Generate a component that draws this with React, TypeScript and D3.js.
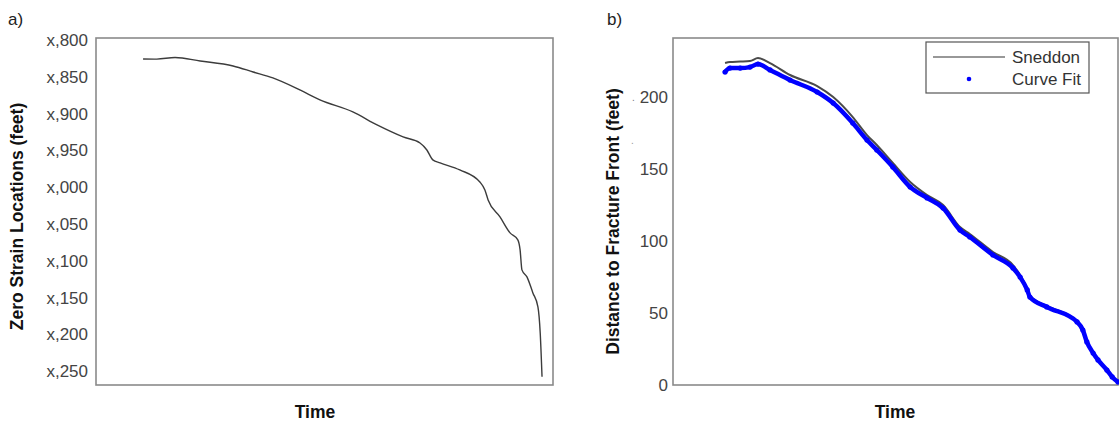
import React from "react";
import * as d3 from "d3";

// Panel a: zero strain location vs time (time in arbitrary units 0..100)
const timeA = [10.3, 13.3, 17.3, 22.8, 30.0, 34.4, 38.7, 44.6, 49.0, 56.2, 61.5, 67.2, 70.9, 72.4, 73.7, 75.3, 79.6, 84.0, 85.1, 85.8, 88.4, 90.6, 92.3, 92.8, 93.2, 94.3, 95.6, 96.7, 97.2, 97.6];
const zeroStrain = [825.8, 826, 823.8, 828.5, 835.3, 843.5, 851.6, 867.9, 881.5, 897.8, 915.5, 931.8, 940, 949.5, 963, 967, 976.6, 993, 1003.8, 1017.4, 1040.5, 1062.2, 1071.7, 1085.3, 1112.5, 1122, 1143.8, 1162.8, 1198, 1257.9];
const ticksA = [800, 850, 900, 950, 1000, 1050, 1100, 1150, 1200, 1250];

// Panel b: distance to fracture front
const timeB = [11.7, 12.8, 15.1, 17.3, 19.1, 21.8, 26.3, 32.4, 36.0, 40.4, 43.6, 45.8, 49.4, 53.3, 57.1, 60.7, 64.5, 66.7, 71.9, 76.4, 78.0, 79.6, 80.2, 84.0, 90.8, 92.1, 93.0, 94.4, 95.5, 97.5, 98.7, 100];
const curveFit = [217.4, 220.1, 220.1, 220.8, 222.9, 218.8, 211.8, 203.5, 195.8, 181.9, 170.1, 163.2, 151.4, 137.5, 129.9, 122.9, 107.6, 102.8, 90.3, 81.3, 75, 66, 61.1, 54.2, 43.8, 38.2, 29.9, 22.2, 17.4, 10.4, 5.6, 2.1];
const sneddon = [223.6, 224.3, 224.6, 225, 227.1, 223.6, 215.3, 207.6, 200, 186.1, 173.6, 166.7, 154.2, 141, 131.9, 125, 109.7, 104.9, 92.4, 83.3, 76.4, 66.7, 61.8, 54.9, 44.4, 38.2, 29.9, 22.2, 17.4, 10.4, 5.6, 2.1];
const ticksB = [0, 50, 100, 150, 200];

const FONT = "'Liberation Sans', Arial, sans-serif";

export default function App() {
  const W = 1119, H = 425;
  const top = 38, bottom = 385;

  // Panel a scales
  const xa = d3.scaleLinear().domain([0, 100]).range([96, 553]);
  const ya = d3.scaleLinear().domain([797.3, 1269]).range([top, bottom]);
  const lineA = d3.line<number>()
    .x((_, i) => xa(timeA[i]))
    .y((d) => ya(d))
    .curve(d3.curveMonotoneX);
  const fmtA = (v: number) => "x," + String(v % 1000).padStart(3, "0");

  // Panel b scales
  const xb = d3.scaleLinear().domain([0, 100]).range([673, 1118]);
  const yb = d3.scaleLinear().domain([0, 241]).range([bottom, top]);
  const lineB = (vals: number[]) =>
    d3.line<number>()
      .x((_, i) => xb(timeB[i]))
      .y((d) => yb(d))
      .curve(d3.curveMonotoneX)(vals) || "";

  const frame = "#8a8a8a";
  const tickCol = "#444";

  return (
    <svg width={W} height={H} style={{ position: "absolute", left: 0, top: 0, background: "#fff" }} fontFamily={FONT}>
      {/* Panel a */}
      <text x={8} y={25} fontSize={17} fill="#222">a)</text>
      <rect x={xa.range()[0]} y={top} width={xa.range()[1] - xa.range()[0]} height={bottom - top} fill="none" stroke={frame} strokeWidth={1.6} />
      {ticksA.map((t) => (
        <text key={t} x={88} y={ya(t)} dy="0.36em" textAnchor="end" fontSize={17} fill={tickCol}>{fmtA(t)}</text>
      ))}
      <path d={lineA(zeroStrain) || ""} fill="none" stroke="#3c3c3c" strokeWidth={1.4} />
      <text transform={`translate(23,${(top + bottom) / 2 + 5}) rotate(-90)`} textAnchor="middle" fontSize={17.5} fontWeight="bold" fill="#111">Zero Strain Locations (feet)</text>
      <text x={315} y={418} textAnchor="middle" fontSize={17.5} fontWeight="bold" fill="#111">Time</text>

      {/* Panel b */}
      <text x={607} y={25} fontSize={17} fill="#222">b)</text>
      <rect x={xb.range()[0]} y={top} width={xb.range()[1] - xb.range()[0]} height={bottom - top} fill="none" stroke={frame} strokeWidth={1.6} />
      {ticksB.map((t) => (
        <text key={t} x={668} y={yb(t)} dy="0.36em" textAnchor="end" fontSize={17} fill={tickCol}>{t}</text>
      ))}
      <text x={632} y={101} fontSize={10} fill="#777">.</text>
      <text x={631} y={144} fontSize={10} fill="#999">.</text>
      <path d={lineB(sneddon)} fill="none" stroke="#4a4a4a" strokeWidth={2} />
      <path d={lineB(curveFit)} fill="none" stroke="#0000ff" strokeWidth={4.5} strokeLinecap="round" />
      {curveFit.map((v, i) => (
        <circle key={i} cx={xb(timeB[i])} cy={yb(v)} r={2.6} fill="#0000ff" />
      ))}
      <text transform={`translate(619,${(top + bottom) / 2 + 10}) rotate(-90)`} textAnchor="middle" fontSize={17.5} fontWeight="bold" fill="#111">Distance to Fracture Front (feet)</text>
      <text x={895} y={418} textAnchor="middle" fontSize={17.5} fontWeight="bold" fill="#111">Time</text>

      {/* Legend */}
      <rect x={926} y={42} width={163} height={51} fill="#fff" stroke="#555" strokeWidth={1.2} />
      <line x1={933} x2={1005} y1={57} y2={57} stroke="#333" strokeWidth={1.2} />
      <text x={1012} y={63} fontSize={17} fill="#333">Sneddon</text>
      <circle cx={969} cy={79} r={2.3} fill="#0000ff" />
      <text x={1012} y={85} fontSize={17} fill="#333">Curve Fit</text>
    </svg>
  );
}
